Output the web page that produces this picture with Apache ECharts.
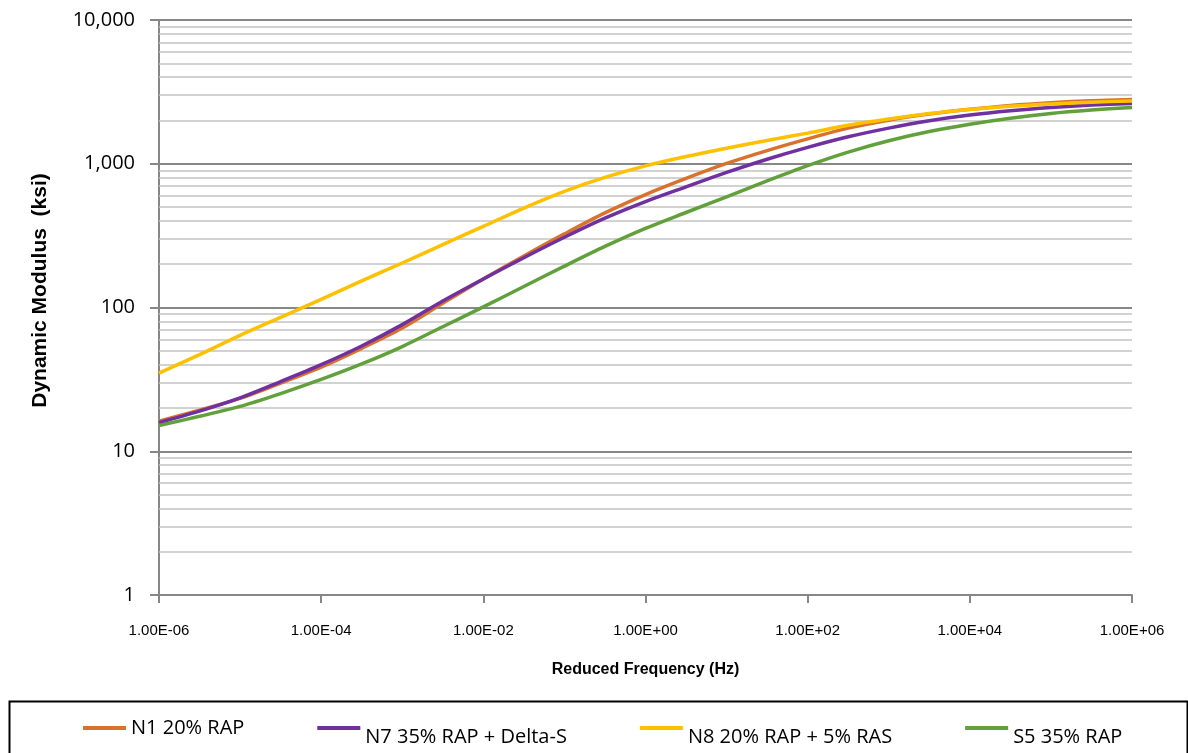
<!DOCTYPE html>
<html>
<head>
<meta charset="utf-8">
<script src="https://cdn.jsdelivr.net/npm/echarts@6/dist/echarts.min.js"></script>
<style>
  html, body { margin: 0; padding: 0; background: #ffffff; }
  #chart { width: 1188px; height: 753px; }
</style>
</head>
<body>
<div id="chart"></div>
<script>
// Master curves: dynamic modulus (ksi) against reduced frequency (Hz), half-decade steps
const FREQ_HZ = [1e-6, 3.16e-6, 1e-5, 3.16e-5, 1e-4, 3.16e-4, 1e-3, 3.16e-3, 1e-2, 3.16e-2,
                 1e-1, 3.16e-1, 1, 3.16, 10, 31.6, 100, 316, 1000, 3160,
                 1e4, 3.16e4, 1e5, 3.16e5, 1e6];

const N1_20_RAP = [16.2, 19.3, 23.3, 29.8, 38.5, 52, 72, 107, 158, 228,
                   325, 455, 610, 790, 1005, 1235, 1490, 1770, 2010, 2215,
                   2390, 2545, 2660, 2745, 2800];

const N7_35_RAP_DELTA_S = [15.8, 19.0, 23.5, 30.5, 40, 54, 76, 111, 158, 222,
                           308, 418, 545, 690, 870, 1075, 1300, 1540, 1770, 1990,
                           2180, 2335, 2460, 2560, 2630];

const N8_20_RAP_5_RAS = [35, 47, 64, 85.5, 114, 153, 204, 274, 367, 492,
                         643, 804, 966, 1122, 1282, 1452, 1633, 1850, 2045, 2235,
                         2388, 2512, 2606, 2680, 2735];

const S5_35_RAP = [15.1, 17.5, 20.5, 25.2, 31.6, 40.5, 53.5, 73.5, 101, 140,
                   194, 266, 355, 458, 588, 760, 970, 1205, 1445, 1675,
                   1885, 2075, 2240, 2365, 2466];

const SERIES_NAMES = ['N1 20% RAP', 'N7 35% RAP + Delta-S', 'N8 20% RAP + 5% RAS', 'S5 35% RAP'];
const SERIES_COLORS = ['#D8722C', '#7030A0', '#FFC000', '#62A03C'];

// Labelled frequency ticks, every second decade
const X_TICKS = [1e-6, 1e-4, 1e-2, 1, 1e2, 1e4, 1e6];

// Minor modulus gridlines inside each decade
const Y_MINOR = [2, 3, 4, 5, 6, 7, 8, 9,
                 20, 30, 40, 50, 60, 70, 80, 90,
                 200, 300, 400, 500, 600, 700, 800, 900,
                 2000, 3000, 4000, 5000, 6000, 7000, 8000, 9000];

const AXIS_GREY = '#878787';
const MINOR_GREY = '#c3c3c3';

function sciLabel(v) {
  const e = Math.round(Math.log10(v));
  return '1.00E' + (e < 0 ? '-' : '+') + String(Math.abs(e)).padStart(2, '0');
}

function toPairs(values) {
  return FREQ_HZ.map((f, i) => [f, values[i]]);
}

const curveValues = [N1_20_RAP, N7_35_RAP_DELTA_S, N8_20_RAP_5_RAS, S5_35_RAP];

const curveSeries = curveValues.map((vals, i) => ({
  name: SERIES_NAMES[i],
  type: 'line',
  data: toPairs(vals),
  smooth: 0.3,
  symbol: 'none',
  showSymbol: false,
  z: 3,
  lineStyle: { width: 3.5, color: SERIES_COLORS[i] },
  itemStyle: { color: SERIES_COLORS[i] },
  emphasis: { disabled: true }
}));

const gridSeries = {
  type: 'line',
  data: [],
  silent: true,
  z: 1,
  markLine: {
    silent: true,
    z: 1,
    animation: false,
    symbol: ['none', 'none'],
    label: { show: false },
    emphasis: { disabled: true },
    lineStyle: { color: MINOR_GREY, width: 1.5, type: 'solid' },
    data: Y_MINOR.map(v => ({ yAxis: v }))
  }
};

const chart = echarts.init(document.getElementById('chart'), null, { renderer: 'canvas' });

chart.setOption({
  animation: false,
  backgroundColor: '#ffffff',
  grid: { left: 159, right: 56, top: 20, bottom: 158, containLabel: false },
  xAxis: {
    type: 'log',
    logBase: 10,
    min: 1e-6,
    max: 1e6,
    name: 'Reduced Frequency (Hz)',
    nameLocation: 'middle',
    nameGap: 67,
    nameTextStyle: { fontFamily: "'Liberation Sans', sans-serif", fontWeight: 'bold', fontSize: 16, color: '#000' },
    axisLine: { show: true, lineStyle: { color: AXIS_GREY, width: 2 } },
    axisTick: { show: true, length: 8, customValues: X_TICKS, lineStyle: { color: AXIS_GREY, width: 2 } },
    axisLabel: { customValues: X_TICKS, formatter: sciLabel, margin: 28,
                 fontFamily: "'Liberation Sans', sans-serif", fontSize: 15, color: '#000' },
    splitLine: { show: false },
    minorTick: { show: false },
    minorSplitLine: { show: false }
  },
  yAxis: {
    type: 'log',
    logBase: 10,
    min: 1,
    max: 10000,
    name: 'Dynamic Modulus  (ksi)',
    nameLocation: 'middle',
    nameRotate: 90,
    nameGap: 108,
    nameTextStyle: { fontFamily: "'Liberation Sans', sans-serif", fontWeight: 'bold', fontSize: 21, color: '#000', padding: [0, 0, 0, 34] },
    axisLine: { show: true, lineStyle: { color: AXIS_GREY, width: 2 } },
    axisTick: { show: true, length: 9, lineStyle: { color: AXIS_GREY, width: 2 } },
    axisLabel: { margin: 24, fontFamily: "'Open Sans', sans-serif", fontSize: 20, color: '#000',
                 formatter: v => Number(v).toLocaleString('en-US') },
    splitLine: { show: true, lineStyle: { color: AXIS_GREY, width: 2 } }
  },
  legend: {
    left: 83,
    top: 718,
    padding: 0,
    icon: 'rect',
    itemWidth: 43,
    itemHeight: 4,
    itemGap: 73,
    selectedMode: false,
    textStyle: {
      fontFamily: "'Open Sans', sans-serif", fontSize: 20, color: '#000',
      rich: {
        up: { fontFamily: "'Open Sans', sans-serif", fontSize: 20, color: '#000', padding: [0, 0, 0, 0] },
        low: { fontFamily: "'Open Sans', sans-serif", fontSize: 20, color: '#000', padding: [18, 0, 0, 0] }
      }
    },
    formatter: name => (name === SERIES_NAMES[0] ? '{up|' : '{low|') + name + '}',
    data: SERIES_NAMES
  },
  graphic: [{
    type: 'rect',
    left: 7,
    top: 699,
    silent: true,
    z: -1,
    shape: { width: 1178, height: 80 },
    style: { fill: 'none', stroke: '#000', lineWidth: 2 }
  }],
  series: [gridSeries].concat(curveSeries)
});
</script>
</body>
</html>
